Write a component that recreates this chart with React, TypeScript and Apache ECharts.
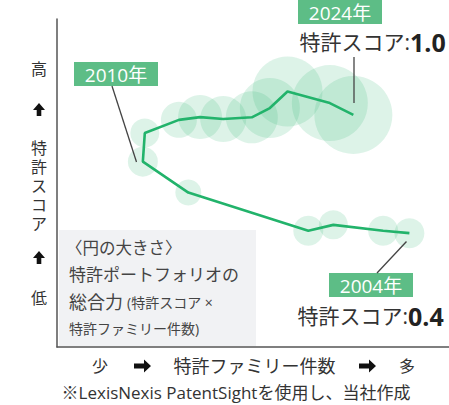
import React, { useEffect, useRef } from "react";
import * as echarts from "echarts";

// Data (family count in relative units, patent score, bubble diameter)
const familyCount = [89.9, 83.2, 70.5, 64.1, 33.5, 21.9, 22.4, 31.1, 36.5, 42.4, 49.7, 54.3, 58.8, 69.6, 75.6];
const patentScore = [0.4, 0.412, 0.442, 0.412, 0.606, 0.763, 0.908, 0.975, 0.989, 0.979, 0.988, 1.035, 1.119, 1.06, 1.0];
const portfolioSize = [30, 30, 29, 30, 26, 30, 29, 36, 44, 46, 52, 60, 70, 76, 78];

const yAxisWords = ["高", "特", "許", "ス", "コ", "ア", "低"];
const xAxisWords = ["少", "特許ファミリー件数", "多"];
const yearLabels = ["2004年", "2010年", "2024年"];
const scoreLabels = ["0.4", "1.0"];
const legendLines = ["〈円の大きさ〉", "特許ポートフォリオの", "総合力", "(特許スコア ×", "特許ファミリー件数)"];
const footnote = "※LexisNexis PatentSightを使用し、当社作成";

const FONT = '"Open Sans", "Noto Sans CJK JP", sans-serif';
const GREEN_BOX = "#5dbd86";
const TEXT = "#333333";

function upArrow(cx: number, top: number) {
  return {
    type: "polygon",
    shape: {
      points: [
        [cx, top],
        [cx + 6, top + 7],
        [cx + 2.3, top + 7],
        [cx + 2.3, top + 13],
        [cx - 2.3, top + 13],
        [cx - 2.3, top + 7],
        [cx - 6, top + 7],
      ],
    },
    style: { fill: "#111" },
  };
}

function rightArrow(left: number, cy: number) {
  return {
    type: "polygon",
    shape: {
      points: [
        [left, cy - 2.5],
        [left + 10, cy - 2.5],
        [left + 10, cy - 6.5],
        [left + 17, cy],
        [left + 10, cy + 6.5],
        [left + 10, cy + 2.5],
        [left, cy + 2.5],
      ],
    },
    style: { fill: "#111" },
  };
}

function txt(text: string, x: number, y: number, size: number, opts: any = {}) {
  const style: any = {
    text,
    x,
    y,
    fill: opts.fill || TEXT,
    font: `${opts.weight || "normal"} ${size}px ${FONT}`,
    textAlign: opts.align || "left",
    textVerticalAlign: "middle",
  };
  if (opts.lineHeight) style.lineHeight = opts.lineHeight;
  return { type: "text", z: 10, style };
}

function yearBox(label: string, x: number, y: number) {
  return {
    type: "group",
    z: 10,
    children: [
      { type: "rect", shape: { x, y, width: 84, height: 24 }, style: { fill: GREEN_BOX } },
      txt(label, x + 42, y + 12.5, 19, { fill: "#fff", align: "center" }),
    ],
  };
}

export default function App() {
  const ref = useRef<HTMLDivElement>(null);
  useEffect(() => {
    if (!ref.current) return;
    const chart = echarts.init(ref.current, undefined, { renderer: "svg" });
    const points = familyCount.map((x, i) => [x, patentScore[i], portfolioSize[i]]);
    const linePts = familyCount.map((x, i) => [x, patentScore[i]]);
    const yWordPos = [69, 148, 167, 186, 205, 224, 298];
    chart.setOption({
      animation: false,
      grid: { left: 57, right: 0, top: 19, bottom: 58 },
      xAxis: {
        type: "value",
        min: 0,
        max: 100,
        axisLine: { show: true, onZero: false, lineStyle: { color: "#555", width: 1.5 } },
        axisTick: { show: false },
        axisLabel: { show: false },
        splitLine: { show: false },
      },
      yAxis: {
        type: "value",
        min: -0.178,
        max: 1.487,
        axisLine: { show: true, onZero: false, lineStyle: { color: "#555", width: 1.5 } },
        axisTick: { show: false },
        axisLabel: { show: false },
        splitLine: { show: false },
      },
      series: [
        {
          type: "scatter",
          data: points,
          symbolSize: (v: number[]) => v[2],
          itemStyle: { color: "rgba(43,181,115,0.2)" },
          silent: true,
          z: 2,
        },
        {
          type: "line",
          data: linePts,
          symbol: "none",
          lineStyle: { color: "#22b36b", width: 2.6 },
          silent: true,
          z: 3,
        },
      ],
      graphic: [
        // legend box
        { type: "rect", z: 1, shape: { x: 59, y: 230, width: 197, height: 116 }, style: { fill: "#f1f2f4" } },
        txt(legendLines[0], 66, 247, 16.5, { fill: "#444" }),
        txt(legendLines[1], 69, 274, 17, { fill: "#444" }),
        txt(legendLines[2], 69, 302, 18, { fill: "#444" }),
        txt(legendLines[3], 127, 302, 14, { fill: "#444" }),
        txt(legendLines[4], 69, 328, 14, { fill: "#444" }),
        // y axis words
        ...yAxisWords.map((w, i) => txt(w, 39, yWordPos[i], 16, { align: "center", lineHeight: 17 })),
        upArrow(39, 103),
        upArrow(39, 251),
        // x axis words
        txt(xAxisWords[0], 100, 366, 16, { align: "center" }),
        rightArrow(134, 366),
        txt(xAxisWords[1], 254.5, 366, 18, { align: "center" }),
        rightArrow(359, 366),
        txt(xAxisWords[2], 407, 366, 16, { align: "center" }),
        txt(footnote, 236, 392, 17, { align: "center" }),
        // leader lines
        { type: "line", z: 9, shape: { x1: 354, y1: 57, x2: 354, y2: 103 }, style: { stroke: "#444", lineWidth: 1.3 } },
        { type: "line", z: 9, shape: { x1: 112, y1: 86, x2: 136.5, y2: 162 }, style: { stroke: "#444", lineWidth: 1.3 } },
        { type: "line", z: 9, shape: { x1: 406.5, y1: 241.5, x2: 377, y2: 273 }, style: { stroke: "#444", lineWidth: 1.3 } },
        // year boxes
        yearBox(yearLabels[2], 298, 0),
        yearBox(yearLabels[1], 74, 62),
        yearBox(yearLabels[0], 329, 273),
        // score labels
        txt("特許スコア:", 410, 42, 21, { align: "right" }),
        txt(scoreLabels[1], 410, 42, 25, { weight: "bold", fill: "#222" }),
        txt("特許スコア:", 408, 316, 21, { align: "right" }),
        txt(scoreLabels[0], 408, 316, 25, { weight: "bold", fill: "#222" }),
      ],
    });
    return () => chart.dispose();
  }, []);
  return (
    <div
      ref={ref}
      style={{ position: "fixed", left: 0, top: 0, width: 449, height: 405, background: "#fff" }}
    />
  );
}
